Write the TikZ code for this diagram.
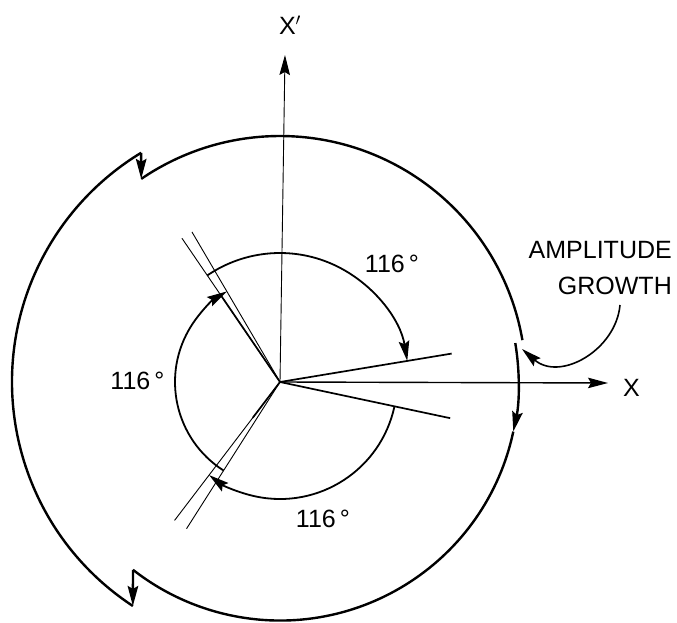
\documentclass[tikz,border=0pt]{standalone}
\usepackage{fontspec}
\setmainfont{Liberation Sans}
\usepackage{tikz}
\usetikzlibrary{arrows.meta,positioning,calc}

\begin{document}
\begin{tikzpicture}[x=1pt,y=1pt,>={Stealth[length=20pt,width=10.5pt,inset=3pt]}, every node/.style={font=\fontsize{25}{29}\selectfont, inner sep=0pt}]
\tikzstyle{outer}=[line width=2.4pt]
\tikzstyle{inner}=[line width=1.8pt]
\tikzstyle{ray}=[line width=0.9pt]
\tikzstyle{vec}=[line width=1.7pt]
\tikzstyle{axis}=[->, line width=1.4pt]
\useasboundingbox (-280,-241) rectangle (397,382);
\coordinate (o) at (0,0);
% axes
\coordinate (xtip) at (328,-1);
\coordinate (ytip) at (5,327);
\draw[axis] (o) -- (xtip);
\draw[axis, line width=0.9pt] (o) -- (ytip);
\node[right=15pt of xtip, yshift=-5pt] (xlab) {X};
\node[above=20pt of ytip, xshift=5pt] (ylab) {X$'$};
% phase lines
\foreach \a in {124.3,120.4,232.7,237.5}
  \draw[ray] (o) -- (\a:174);
\draw[vec] (o) -- (9.4:174);
\draw[vec] (o) -- (-12:174);
\draw[vec] (o) -- (124.3:105);
\draw[vec] (o) -- (232.7:45);
% inner turns
\draw[inner,->] (-12:117) arc[start angle=-12, end angle=-127.3, radius=117];
\draw[inner,->] (237.5:105) arc[start angle=237.5, end angle=120.4, radius=105];
\draw[inner,->] (124.3:129) arc[start angle=124.3, end angle=9.4, radius=129];
\node (ang1) at (112,118) {116\,°};
\node (ang2) at (-142.5,1) {116\,°};
\node (ang3) at (43,-137) {116\,°};
% outer spiral
\coordinate (r1) at (9.4:238.5);
\coordinate (ll2) at (-123.3:268);
\coordinate (ul2) at (124.35:246);
\draw[outer,->] (r1) arc[start angle=9.4, end angle=-12, radius=238.5];
\draw[outer] (-12:238.5) arc[start angle=-12, end angle=-128.05, radius=238.5] coordinate (ll1);
\draw[outer,->] (ll1) -- (ll2);
\draw[outer] (ll2) arc[start angle=-123.3, end angle=-238.8, radius=268] coordinate (ul1);
\draw[outer,->] (ul1) -- (ul2);
\draw[outer] (ul2) arc[start angle=124.35, end angle=9.8, radius=246] coordinate (r0);
% callout
\node[anchor=east] (amp) at (392,132) {AMPLITUDE};
\node[below=36pt of amp.east, anchor=east] (grow) {GROWTH};
\coordinate (cs) at (340,77);
\coordinate (gap) at (242,33);
\draw[->, line width=1.6pt] (cs) .. controls (336,32) and (280,0) .. (gap);
\end{tikzpicture}
\end{document}
